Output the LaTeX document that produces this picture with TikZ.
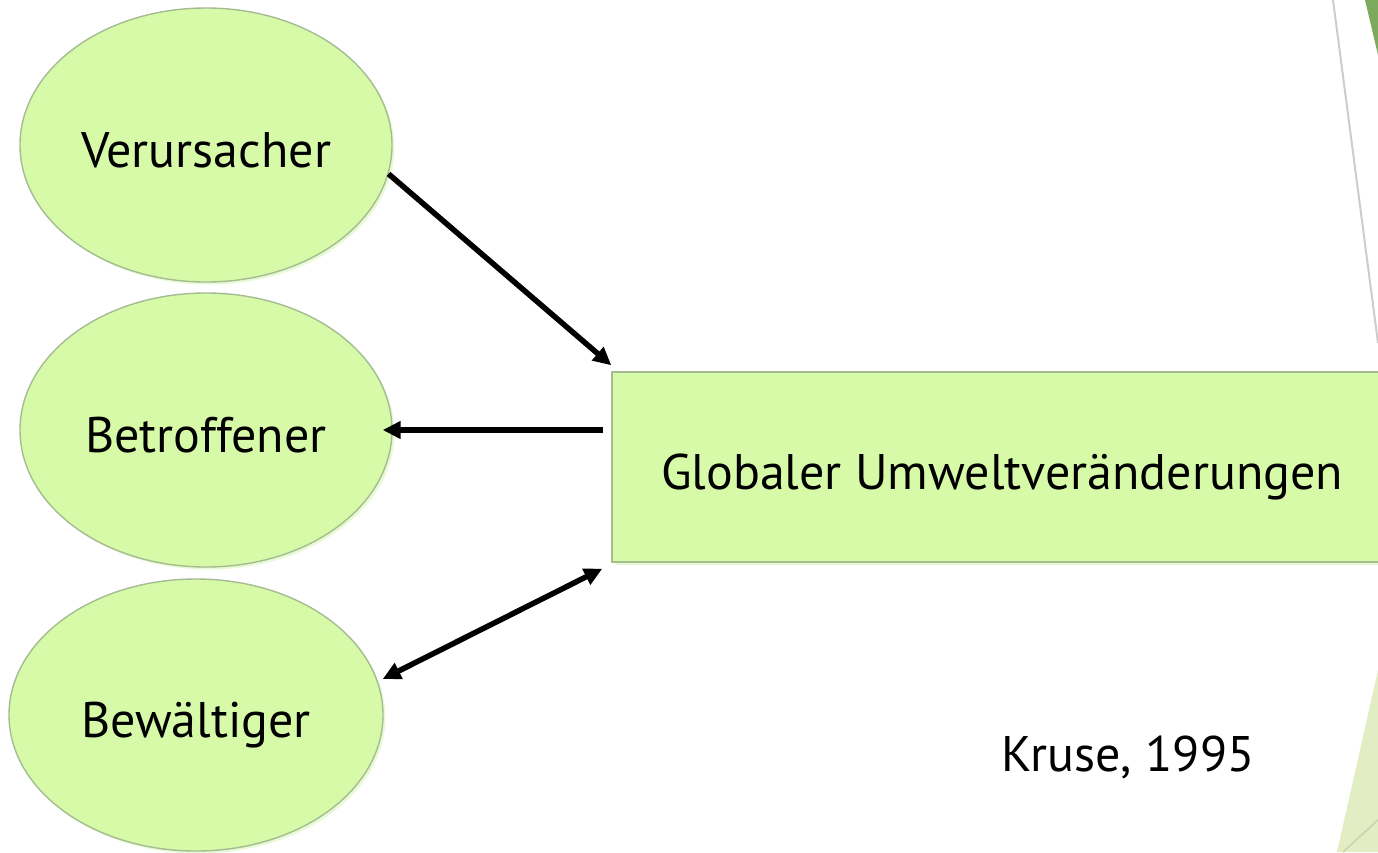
\documentclass[tikz,border=0pt]{standalone}
\usepackage{fontspec}
\setmainfont{PT Sans}
\usetikzlibrary{shapes, arrows.meta, positioning, shadows, calc}
\definecolor{leaf}{RGB}{214,250,168}
\definecolor{leafline}{RGB}{165,188,146}
\definecolor{leafglow}{RGB}{232,250,212}
\definecolor{darkleaf}{RGB}{124,170,92}
\definecolor{paleleaf}{RGB}{226,237,196}
\definecolor{paleline}{RGB}{200,212,176}
\begin{document}
\begin{tikzpicture}[x=1pt, y=-1pt, node distance=285pt, >={Triangle[length=18pt, width=17pt]}]
    % Define block styles
    \tikzstyle{role} = [ellipse, draw=leafline, fill=leaf, line width=1.4pt,
        minimum width=372pt, minimum height=274pt, inner sep=0pt,
        text height=45pt, text depth=0pt, font=\fontsize{50}{58}\selectfont,
        drop shadow={shadow xshift=2.5pt, shadow yshift=-2.5pt, fill=leafglow, opacity=1}]
    \tikzstyle{change} = [rectangle, draw=leafline, fill=leaf, line width=1.4pt,
        minimum width=780pt, minimum height=190pt, inner sep=0pt,
        text height=45pt, text depth=0pt, font=\fontsize{50}{58}\selectfont,
        drop shadow={shadow xshift=2.5pt, shadow yshift=-2.5pt, fill=leafglow, opacity=1}]
    \tikzstyle{line} = [draw, line width=5.5pt]

    \useasboundingbox (0,0) rectangle (1378,852);

    % Slide decoration
    \fill[darkleaf] (1365,0) -- (1378,0) -- (1378,55) -- cycle;
    \draw[black!20, line width=2pt] (1333,0) -- (1378,343);
    \fill[paleleaf] (1378,670) -- (1378,852) -- (1337,852) -- cycle;
    \draw[paleline, line width=1.5pt] (1343,852) -- (1378,820);

    % Define nodes
    \node [role] (ver) at (206,145) {Verursacher};
    \node [role, below of=ver] (bet) {Betroffener};
    \node [role, below of=bet, xshift=-10pt, minimum width=374pt, minimum height=272pt] (bew) {Bewältiger};
    \node [change] (glob) at (1002,467) {Globaler Umweltveränderungen};
    \node [text height=45pt, text depth=0pt, font=\fontsize{50}{58}\selectfont] (src) at (1128,749) {Kruse, 1995};

    % Draw edges
    \path [line, ->] (ver.-9) -- ($(glob.north west)+(0,-6)$);
    \path [line, ->] ($(glob.west |- bet.east)+(-8,0)$) -- ($(bet.east)+(-10,0)$);
    \path [line, <->] ($(bew.east)+(-1,-36)$) -- ($(glob.south west)+(-9,6)$);

\end{tikzpicture}
\end{document}
